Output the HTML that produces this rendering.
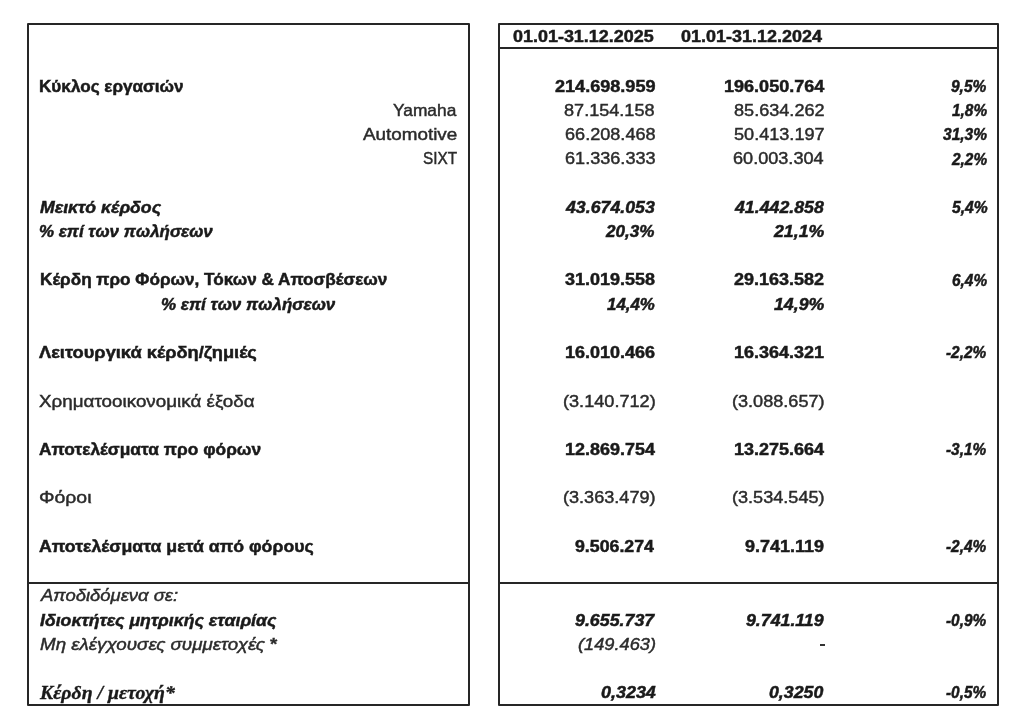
<!DOCTYPE html>
<html><head><meta charset="utf-8"><style>html,body{margin:0;padding:0;background:#fff;}
body{width:1024px;height:728px;position:relative;overflow:hidden;}
.t{position:absolute;white-space:pre;line-height:1;transform-origin:0 0;color:#1a1a1a;-webkit-text-stroke:0.35px #1a1a1a;}
.B,.BI,.P{-webkit-text-stroke-width:0.5px;}
.R,.I{color:#2b2b2b;-webkit-text-stroke-color:#2b2b2b;-webkit-text-stroke-width:0.45px;}
.ast{font-weight:700;font-style:normal;-webkit-text-stroke-width:0.3px;}
.wrap{position:absolute;left:0;top:0;width:1024px;height:728px;filter:blur(0.45px);}
.m{display:inline-block;width:0;height:0;}
.R{font:400 17px "Liberation Sans", sans-serif;}
.B{font:700 17px "Liberation Sans", sans-serif;}
.I{font:italic 400 17px "Liberation Sans", sans-serif;}
.BI{font:italic 700 17px "Liberation Sans", sans-serif;}
.P{font:italic 700 16.5px "Liberation Sans", sans-serif;}
.S{font:italic 700 19px "Liberation Serif", serif;}
.bx{position:absolute;box-sizing:border-box;border:2px solid #262626;border-radius:1px;}
.hl{position:absolute;height:2px;background:#262626;}
</style></head><body><div class="wrap">
<div class="bx" style="left:27px;top:23px;width:443px;height:683px"></div>
<div class="bx" style="left:498px;top:23px;width:501px;height:683px"></div>
<div class="hl" style="left:498px;top:47px;width:501px"></div>
<div class="hl" style="left:27px;top:582px;width:443px"></div>
<div class="hl" style="left:498px;top:582px;width:501px"></div>
<div class="hl" style="left:819.5px;top:644px;width:5px;background:#333"></div>
<div class="t B" id="t0" style="left:512.64px;top:27.00px;transform:scaleX(1.0556)">01.01-31.12.2025<i class="m"></i></div>
<div class="t B" id="t1" style="left:681.29px;top:27.00px;transform:scaleX(1.0581)">01.01-31.12.2024<i class="m"></i></div>
<div class="t B" id="t2" style="left:38.95px;top:76.72px;transform:scaleX(1.0072)">Κύκλος εργασιών<i class="m"></i></div>
<div class="t B" id="t3" style="left:555.12px;top:76.72px;transform:scaleX(1.0632)">214.698.959<i class="m"></i></div>
<div class="t B" id="t4" style="left:723.75px;top:76.72px;transform:scaleX(1.0613)">196.050.764<i class="m"></i></div>
<div class="t P" id="t5" style="left:951.20px;top:77.00px;transform:scaleX(0.9380)">9,5%<i class="m"></i></div>
<div class="t R" id="t6" style="left:392.56px;top:100.60px;transform:scaleX(1.0199)">Yamaha<i class="m"></i></div>
<div class="t R" id="t7" style="left:564.20px;top:100.60px;transform:scaleX(1.0644)">87.154.158<i class="m"></i></div>
<div class="t R" id="t8" style="left:734.32px;top:100.60px;transform:scaleX(1.0646)">85.634.262<i class="m"></i></div>
<div class="t P" id="t9" style="left:951.67px;top:101.00px;transform:scaleX(0.9321)">1,8%<i class="m"></i></div>
<div class="t R" id="t10" style="left:362.75px;top:124.90px;transform:scaleX(1.1086)">Automotive<i class="m"></i></div>
<div class="t R" id="t11" style="left:564.86px;top:124.90px;transform:scaleX(1.0646)">66.208.468<i class="m"></i></div>
<div class="t R" id="t12" style="left:734.14px;top:124.90px;transform:scaleX(1.0646)">50.413.197<i class="m"></i></div>
<div class="t P" id="t13" style="left:943.26px;top:125.20px;transform:scaleX(0.9412)">31,3%<i class="m"></i></div>
<div class="t R" id="t14" style="left:422.63px;top:149.32px;transform:scaleX(0.9018)">SIXT<i class="m"></i></div>
<div class="t R" id="t15" style="left:564.86px;top:149.32px;transform:scaleX(1.0646)">61.336.333<i class="m"></i></div>
<div class="t R" id="t16" style="left:733.14px;top:149.32px;transform:scaleX(1.0646)">60.003.304<i class="m"></i></div>
<div class="t P" id="t17" style="left:951.67px;top:149.51px;transform:scaleX(0.9321)">2,2%<i class="m"></i></div>
<div class="t BI" id="t18" style="left:39.67px;top:197.82px;transform:scaleX(1.0386)">Μεικτό κέρδος<i class="m"></i></div>
<div class="t BI" id="t19" style="left:566.23px;top:197.82px;transform:scaleX(1.0434)">43.674.053<i class="m"></i></div>
<div class="t BI" id="t20" style="left:734.82px;top:197.82px;transform:scaleX(1.0434)">41.442.858<i class="m"></i></div>
<div class="t P" id="t21" style="left:951.93px;top:198.31px;transform:scaleX(0.9505)">5,4%<i class="m"></i></div>
<div class="t BI" id="t22" style="left:38.97px;top:221.82px;transform:scaleX(0.9958)">% επί των πωλήσεων<i class="m"></i></div>
<div class="t BI" id="t23" style="left:606.08px;top:221.82px;transform:scaleX(1.0030)">20,3%<i class="m"></i></div>
<div class="t BI" id="t24" style="left:773.52px;top:221.82px;transform:scaleX(1.0434)">21,1%<i class="m"></i></div>
<div class="t B" id="t25" style="left:39.83px;top:270.22px;transform:scaleX(1.0087)">Κέρδη προ Φόρων, Τόκων &amp; Αποσβέσεων<i class="m"></i></div>
<div class="t B" id="t26" style="left:565.01px;top:270.22px;transform:scaleX(1.0588)">31.019.558<i class="m"></i></div>
<div class="t B" id="t27" style="left:733.67px;top:270.22px;transform:scaleX(1.0585)">29.163.582<i class="m"></i></div>
<div class="t P" id="t28" style="left:952.02px;top:271.01px;transform:scaleX(0.9321)">6,4%<i class="m"></i></div>
<div class="t BI" id="t29" style="left:160.80px;top:294.50px;transform:scaleX(0.9988)">% επί των πωλήσεων<i class="m"></i></div>
<div class="t BI" id="t30" style="left:607.24px;top:294.50px;transform:scaleX(0.9929)">14,4%<i class="m"></i></div>
<div class="t BI" id="t31" style="left:773.52px;top:294.50px;transform:scaleX(1.0434)">14,9%<i class="m"></i></div>
<div class="t B" id="t32" style="left:39.44px;top:343.10px;transform:scaleX(1.0741)">Λειτουργικά κέρδη/ζημιές<i class="m"></i></div>
<div class="t B" id="t33" style="left:564.61px;top:343.10px;transform:scaleX(1.0589)">16.010.466<i class="m"></i></div>
<div class="t B" id="t34" style="left:733.64px;top:343.10px;transform:scaleX(1.0585)">16.364.321<i class="m"></i></div>
<div class="t P" id="t35" style="left:946.47px;top:343.31px;transform:scaleX(0.9315)">-2,2%<i class="m"></i></div>
<div class="t R" id="t36" style="left:39.19px;top:391.60px;transform:scaleX(1.1069)">Χρηματοοικονομικά έξοδα<i class="m"></i></div>
<div class="t R" id="t37" style="left:562.89px;top:391.60px;transform:scaleX(1.0662)">(3.140.712)<i class="m"></i></div>
<div class="t R" id="t38" style="left:732.02px;top:391.60px;transform:scaleX(1.0646)">(3.088.657)<i class="m"></i></div>
<div class="t B" id="t39" style="left:39.15px;top:440.00px;transform:scaleX(1.0200)">Αποτελέσματα προ φόρων<i class="m"></i></div>
<div class="t B" id="t40" style="left:564.72px;top:440.00px;transform:scaleX(1.0565)">12.869.754<i class="m"></i></div>
<div class="t B" id="t41" style="left:733.53px;top:440.00px;transform:scaleX(1.0585)">13.275.664<i class="m"></i></div>
<div class="t P" id="t42" style="left:946.36px;top:440.20px;transform:scaleX(0.9321)">-3,1%<i class="m"></i></div>
<div class="t R" id="t43" style="left:39.46px;top:488.40px;transform:scaleX(1.1432)">Φόροι<i class="m"></i></div>
<div class="t R" id="t44" style="left:562.70px;top:488.40px;transform:scaleX(1.0646)">(3.363.479)<i class="m"></i></div>
<div class="t R" id="t45" style="left:732.02px;top:488.40px;transform:scaleX(1.0646)">(3.534.545)<i class="m"></i></div>
<div class="t B" id="t46" style="left:39.17px;top:536.50px;transform:scaleX(1.0414)">Αποτελέσματα μετά από φόρους<i class="m"></i></div>
<div class="t B" id="t47" style="left:574.94px;top:536.50px;transform:scaleX(1.0444)">9.506.274<i class="m"></i></div>
<div class="t B" id="t48" style="left:744.80px;top:536.50px;transform:scaleX(1.0585)">9.741.119<i class="m"></i></div>
<div class="t P" id="t49" style="left:946.36px;top:536.70px;transform:scaleX(0.9321)">-2,4%<i class="m"></i></div>
<div class="t I" id="t50" style="left:40.65px;top:586.32px;transform:scaleX(1.0856)">Αποδιδόμενα σε:<i class="m"></i></div>
<div class="t BI" id="t51" style="left:40.11px;top:610.82px;transform:scaleX(1.0397)">Ιδιοκτήτες μητρικής εταιρίας<i class="m"></i></div>
<div class="t BI" id="t52" style="left:575.18px;top:610.82px;transform:scaleX(1.0470)">9.655.737<i class="m"></i></div>
<div class="t BI" id="t53" style="left:746.01px;top:610.82px;transform:scaleX(1.0434)">9.741.119<i class="m"></i></div>
<div class="t P" id="t54" style="left:946.15px;top:611.31px;transform:scaleX(0.9313)">-0,9%<i class="m"></i></div>
<div class="t I" id="t55" style="left:39.92px;top:634.60px;transform:scaleX(1.1045)">Μη ελέγχουσες συμμετοχές <span class="ast">*</span><i class="m"></i></div>
<div class="t I" id="t56" style="left:577.78px;top:634.60px;transform:scaleX(1.0716)">(149.463)<i class="m"></i></div>
<div class="t S" id="t57" style="left:39.68px;top:682.31px;transform:scaleX(1.0424)">Κέρδη / μετοχή*<i class="m"></i></div>
<div class="t BI" id="t58" style="left:600.50px;top:682.90px;transform:scaleX(1.0542)">0,3234<i class="m"></i></div>
<div class="t BI" id="t59" style="left:769.30px;top:682.90px;transform:scaleX(1.0434)">0,3250<i class="m"></i></div>
<div class="t P" id="t60" style="left:946.15px;top:683.00px;transform:scaleX(0.9313)">-0,5%<i class="m"></i></div>
</div></body></html>
